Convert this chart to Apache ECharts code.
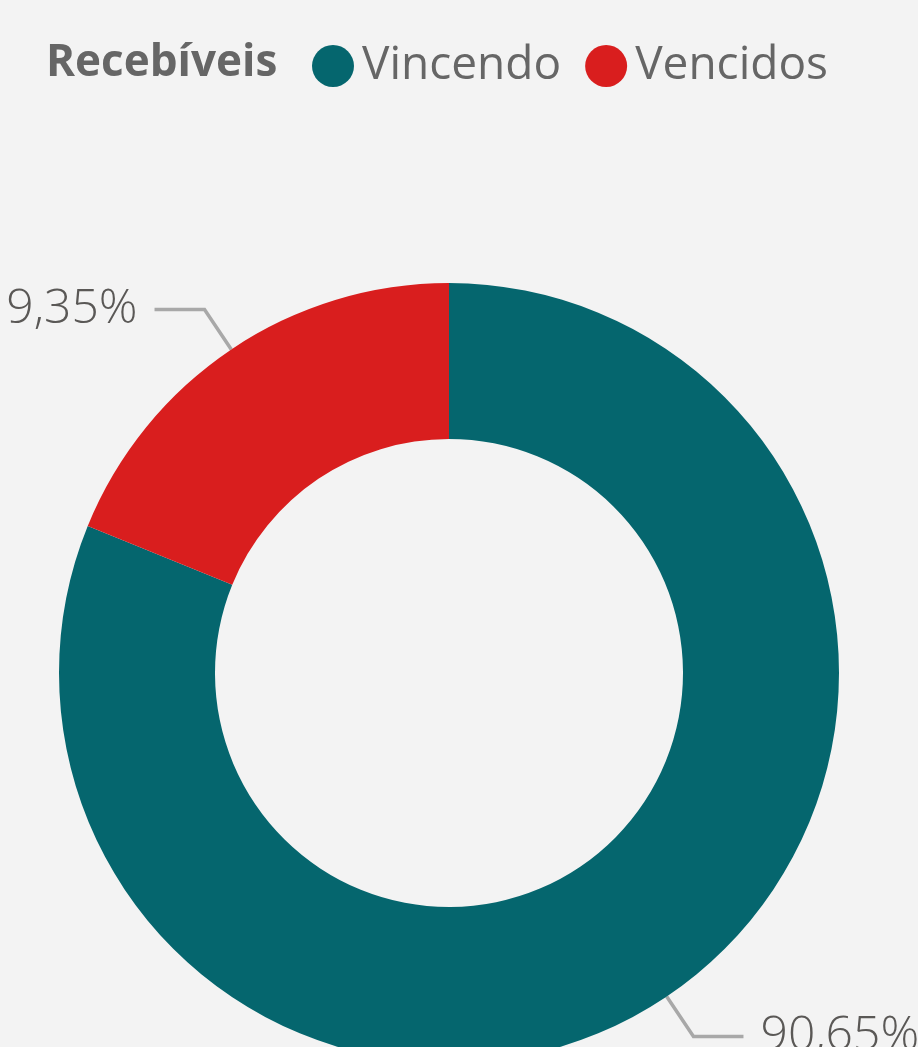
<!DOCTYPE html>
<html lang="pt-BR">
<head>
    <meta charset="UTF-8">
    <title>Recebíveis</title>
    <script src="https://cdn.jsdelivr.net/npm/echarts@6/dist/echarts.min.js"></script>
    <style>
        html, body {
            margin: 0;
            padding: 0;
            background-color: #f3f3f3;
        }
        #chart {
            width: 918px;
            height: 1047px;
        }
    </style>
</head>
<body>
    <div id="chart"></div>

    <script>
        // categorias e valores (fatia desenhada conforme a imagem)
        const categories = ['Vincendo', 'Vencidos'];
        const shares = [81.15, 18.85];
        const labelTexts = ['90,65%', '9,35%'];
        const colors = ['#05666e', '#d91e1e'];

        const chart = echarts.init(document.getElementById('chart'));

        const data = categories.map((name, i) => ({
            name: name,
            value: shares[i],
            itemStyle: { color: colors[i] },
            label: { formatter: labelTexts[i] }
        }));

        const option = {
            backgroundColor: '#f3f3f3',
            title: {
                text: 'Recebíveis',
                left: 41,
                top: 36,
                textStyle: {
                    fontFamily: 'Open Sans',
                    fontSize: 44,
                    fontWeight: 'bold',
                    color: '#666666'
                }
            },
            legend: {
                left: 307,
                top: 38,
                icon: 'circle',
                itemWidth: 42,
                itemHeight: 42,
                itemGap: 24,
                textStyle: {
                    fontFamily: 'Open Sans',
                    fontSize: 46,
                    color: '#666666',
                    padding: [0, 0, 0, 3]
                },
                data: categories
            },
            series: [
                {
                    type: 'pie',
                    center: [449, 673],
                    radius: [234, 390],
                    startAngle: 90,
                    clockwise: true,
                    avoidLabelOverlap: false,
                    data: data,
                    label: {
                        show: true,
                        position: 'outside',
                        fontFamily: 'Open Sans',
                        fontWeight: 300,
                        fontSize: 48,
                        color: '#5a5856',
                        distanceToLabelLine: 17
                    },
                    labelLine: {
                        show: true,
                        length: 48,
                        length2: 50,
                        lineStyle: {
                            color: '#a8a8a8',
                            width: 3.5
                        }
                    },
                    emphasis: { disabled: true }
                }
            ]
        };

        chart.setOption(option);
    </script>
</body>
</html>
